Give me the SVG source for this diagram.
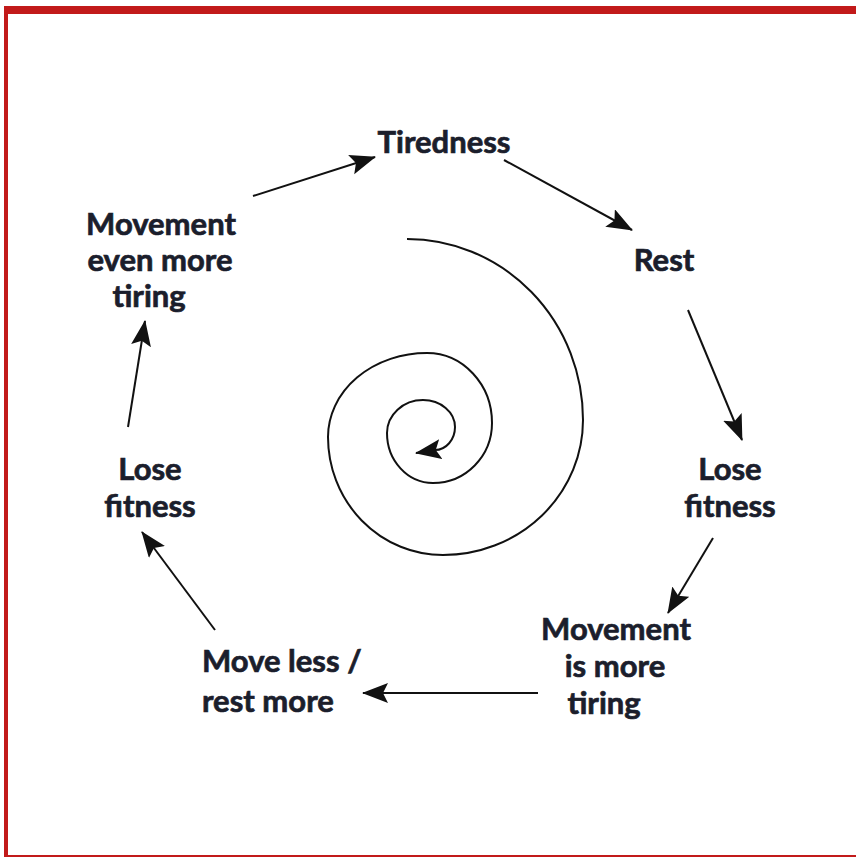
<svg xmlns="http://www.w3.org/2000/svg" width="856" height="858" viewBox="0 0 856 858">
<defs>
<style>
.t{font-family:Lato,"Open Sans","Liberation Sans",sans-serif;font-weight:bold;font-size:31px;fill:#1b1e2c;stroke:#1b1e2c;stroke-width:0.7;text-anchor:middle}
.s{text-anchor:start}
.c{stroke:#111;stroke-width:2;fill:none}
</style>
<marker id="ah" markerUnits="userSpaceOnUse" markerWidth="30" markerHeight="24" refX="25" refY="10" orient="auto">
<path d="M0,0 L26,10 L0,20 L5,10 Z" fill="#111"/>
</marker>
</defs>
<rect x="0" y="0" width="856" height="858" fill="#fff"/>
<g id="frame" fill="#c21a1a">
<rect x="4" y="6" width="852" height="8"/>
<rect x="4" y="6" width="4" height="851"/>
<rect x="4" y="855" width="852" height="2"/>
</g>
<g id="spiral">
<path class="c" marker-end="url(#ah)" d="M407,239 A176,181 0 0 1 583,420 A140,135 0 0 1 443,555 A115,118 0 0 1 328,437 A99,84 0 0 1 427,353 A65,70 0 0 1 492,423 A59,60 0 0 1 433,483 A46,50 0 0 1 387,433 A36,33 0 0 1 423,400 A32,27 0 0 1 455,427 A20,23 0 0 1 435,450 L416,453"/>
</g>
<g id="connectors">
<line class="c" x1="253" y1="196" x2="375" y2="157" marker-end="url(#ah)"/>
<line class="c" x1="504" y1="160" x2="632" y2="230" marker-end="url(#ah)"/>
<line class="c" x1="688" y1="310" x2="742" y2="440" marker-end="url(#ah)"/>
<line class="c" x1="713" y1="538" x2="668" y2="613" marker-end="url(#ah)"/>
<line class="c" x1="538" y1="693" x2="363" y2="693" marker-end="url(#ah)"/>
<line class="c" x1="215" y1="630" x2="142" y2="532" marker-end="url(#ah)"/>
<line class="c" x1="128" y1="427" x2="145" y2="321" marker-end="url(#ah)"/>
</g>
<g id="tiredness"><text class="t" x="444" y="153">Tiredness</text></g>
<g id="rest"><text class="t" x="664" y="271">Rest</text></g>
<g id="lose-fitness-right"><text class="t" x="730" y="480">Lose</text><text class="t" x="730" y="517">fitness</text></g>
<g id="movement-more-tiring"><text class="t" x="616" y="640">Movement</text><text class="t" x="615" y="677">is more</text><text class="t" x="604" y="714">tiring</text></g>
<g id="move-less"><text class="t s" x="202" y="672">Move less /</text><text class="t s" x="202" y="712">rest more</text></g>
<g id="lose-fitness-left"><text class="t" x="150" y="480">Lose</text><text class="t" x="150" y="517">fitness</text></g>
<g id="movement-even-more"><text class="t" x="161" y="235">Movement</text><text class="t" x="160" y="271">even more</text><text class="t" x="149" y="307">tiring</text></g>
</svg>
